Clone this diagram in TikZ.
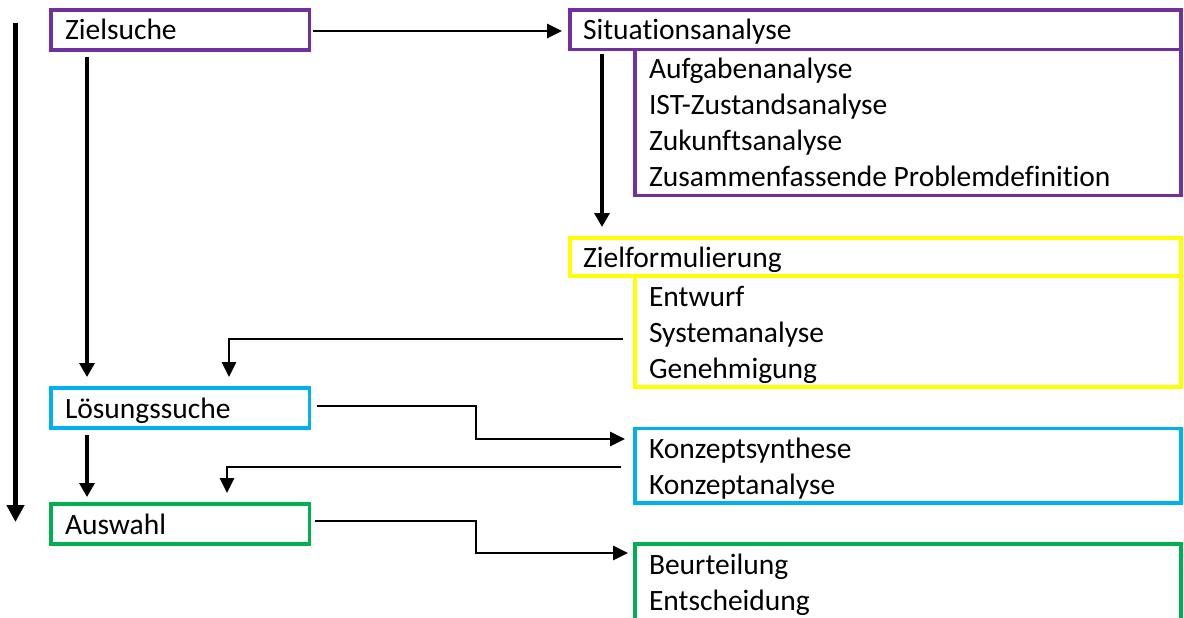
\documentclass[tikz,border=0pt]{standalone}
\usepackage{fontspec}
\setmainfont[Ligatures=NoCommon]{Carlito}
\usetikzlibrary{arrows.meta}
\definecolor{phasepurple}{HTML}{7030A0}
\definecolor{phaseyellow}{HTML}{FFFF00}
\definecolor{phaseblue}{HTML}{00B0F0}
\definecolor{phasegreen}{HTML}{00B050}
\begin{document}
\begin{tikzpicture}[x=1pt,y=-1pt,
  framebox/.style={draw=#1, line width=3.5pt, rectangle, outer sep=0pt,
    inner sep=0pt, anchor=north west},
  openbox/.style={draw=none, rectangle, outer sep=0pt, inner sep=0pt,
    anchor=north west},
  edge3/.style={draw=#1, line width=3.5pt},
  txt/.style={anchor=base west, inner sep=0pt, outer sep=0pt,
    font=\fontsize{29.5}{35}\selectfont},
  conn/.style={draw, line width=2.7pt, -{Triangle[length=15pt,width=14pt]}},
  vconn/.style={draw, line width=3.3pt, -{Triangle[length=14pt,width=15pt]}},
  timeline/.style={draw, line width=4.5pt, -{Triangle[length=17pt,width=17pt]}}]

\useasboundingbox (0,0) rectangle (1184,618);
\clip (0,0) rectangle (1184,618);

% left column: phases
\node[framebox=phasepurple, minimum width=258.5pt, minimum height=40pt] (zs) at (51,10) {};
\node[framebox=phaseblue,   minimum width=258.5pt, minimum height=40pt] (ls) at (51,388) {};
\node[framebox=phasegreen,  minimum width=258.5pt, minimum height=40pt] (aw) at (51,504) {};
\node[txt] (zst) at (65,39.5) {Zielsuche};
\node[txt] (lst) at (65,418) {Lösungssuche};
\node[txt] (awt) at (65,534) {Auswahl};

% right column: steps of the goal search
\node[framebox=phasepurple, minimum width=611pt, minimum height=39.5pt] (sit) at (570,10) {};
\node[openbox, minimum width=546pt, minimum height=146pt] (sits) at (635,49.5) {};
\draw[edge3=phasepurple] (sits.north west) -- (sits.south west) -- (sits.south east) -- (sits.north east);
\node[txt] (sitt) at (583,39.5) {Situationsanalyse};
\node[txt] (s1) at (649,78)  {Aufgabenanalyse};
\node[txt] (s2) at (649,114) {IST-Zustandsanalyse};
\node[txt] (s3) at (649,150) {Zukunftsanalyse};
\node[txt] (s4) at (649,186) {Zusammenfassende Problemdefinition};

\node[framebox=phaseyellow, minimum width=611pt, minimum height=38pt] (zf) at (570,238) {};
\node[openbox, minimum width=546pt, minimum height=111pt] (zfs) at (635,276) {};
\draw[edge3=phaseyellow] (zfs.north west) -- (zfs.south west) -- (zfs.south east) -- (zfs.north east);
\node[txt] (zft) at (583,267.5) {Zielformulierung};
\node[txt] (z1) at (649,306) {Entwurf};
\node[txt] (z2) at (649,342) {Systemanalyse};
\node[txt] (z3) at (649,378) {Genehmigung};

% right column: solution search and selection
\node[framebox=phaseblue, minimum width=546pt, minimum height=74.5pt] (ks) at (635,428.5) {};
\node[txt] (k1) at (649,458.5) {Konzeptsynthese};
\node[txt] (k2) at (649,494.5) {Konzeptanalyse};

\node[framebox=phasegreen, minimum width=546pt, minimum height=110pt] (bt) at (635,544) {};
\node[txt] (b1) at (649,574) {Beurteilung};
\node[txt] (b2) at (649,610) {Entscheidung};

% overall time axis
\coordinate (tltop) at (15.5,23);
\coordinate (tlbot) at (15.5,522);
\draw[timeline] (tltop) -- (tlbot);

% connectors
\coordinate (col) at (476,0);

\draw[conn] ([xshift=3.5pt,yshift=-1pt]zs.east) -- ([xshift=-8pt,yshift=-1.25pt]sit.west);
\draw[vconn] ([xshift=32pt,yshift=-5pt]sit.south west) -- ([xshift=32pt,yshift=11pt]zf.north west);

\draw[vconn] ([xshift=36pt,yshift=-7pt]zs.south west) -- ([xshift=36pt,yshift=11pt]ls.north west);
\draw[vconn] ([xshift=36pt,yshift=-7pt]ls.south west) -- ([xshift=36pt,yshift=7pt]aw.north west);

\draw[conn] ([xshift=-12pt,yshift=-7.5pt]zfs.west) -| ([xshift=178pt,yshift=11pt]ls.north west);
\draw[conn] ([xshift=-14pt,yshift=-1.25pt]ks.west) -| ([xshift=176pt,yshift=11pt]aw.north west);

\coordinate (lsout) at ([xshift=7.5pt,yshift=2pt]ls.east);
\coordinate (ksin) at ([xshift=-10pt,yshift=-10.5pt]ks.north west);
\draw[conn] (lsout) -| (col |- ksin) -- (ksin);

\coordinate (awout) at ([xshift=5.5pt,yshift=3pt]aw.east);
\coordinate (btin) at ([xshift=-7pt,yshift=-9pt]bt.north west);
\draw[conn] (awout) -| (col |- btin) -- (btin);
\end{tikzpicture}
\end{document}
